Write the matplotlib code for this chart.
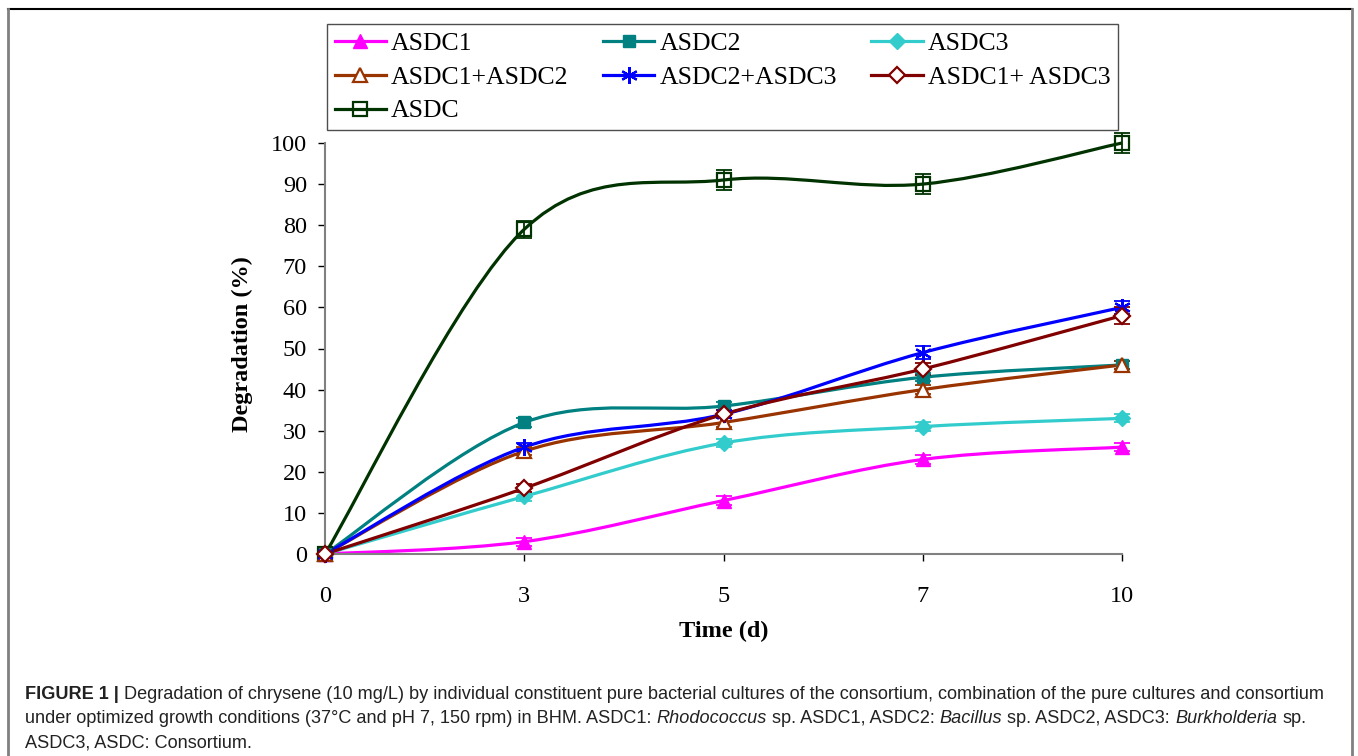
import numpy as np
import matplotlib
matplotlib.use("Agg")
import matplotlib.pyplot as plt
from matplotlib.path import Path
from matplotlib.patches import PathPatch
from matplotlib.lines import Line2D

# datos
dias = ["0", "3", "5", "7", "10"]

asdc1 = [0, 3, 13, 23, 26]
asdc2 = [0, 32, 36, 43, 46]
asdc3 = [0, 14, 27, 31, 33]
asdc1_2 = [0, 25, 32, 40, 46]
asdc2_3 = [0, 26, 34, 49, 60]
asdc1_3 = [0, 16, 34, 45, 58]
asdc = [0, 79, 91, 90, 100]

err_asdc1 = [0, 1, 1, 1, 1]
err_asdc2 = [0, 1, 1, 1, 1]
err_asdc3 = [0, 1, 1, 1, 1]
err_asdc1_2 = [0, 1, 1, 1, 1]
err_asdc2_3 = [0, 1, 1, 1.5, 1.5]
err_asdc1_3 = [0, 1, 1, 1.5, 2]
err_asdc = [0, 2, 2.5, 2.5, 2.5]

W, H = 1358, 756
SERIF = ["Liberation Serif", "DejaVu Serif"]
SANS = ["Liberation Sans", "DejaVu Sans"]


def curva_suave(xs, ys):
    """Curva tipo Catmull-Rom (como las lineas suavizadas de Excel)."""
    pts = np.column_stack([xs, ys]).astype(float)
    n = len(pts)
    verts = [pts[0]]
    codes = [Path.MOVETO]
    for i in range(n - 1):
        p0 = pts[i - 1] if i > 0 else pts[i]
        p1 = pts[i]
        p2 = pts[i + 1]
        p3 = pts[i + 2] if i + 2 < n else pts[i + 1]
        verts += [p1 + (p2 - p0) / 6, p2 - (p3 - p1) / 6, p2]
        codes += [Path.CURVE4] * 3
    return Path(verts, codes)


fig = plt.figure(figsize=(W / 100, H / 100), dpi=100)
fig.patch.set_facecolor("white")
ax = fig.add_axes([325 / W, 1 - 554 / H, (1122 - 325) / W, (554 - 143) / H])

x = np.arange(len(dias))

series = [
    ("ASDC", asdc, err_asdc, "#003300", "s", "none", 10),
    ("ASDC1", asdc1, err_asdc1, "#FF00FF", "^", "#FF00FF", 10),
    ("ASDC2", asdc2, err_asdc2, "#008080", "s", "#008080", 9),
    ("ASDC3", asdc3, err_asdc3, "#33CCCC", "D", "#33CCCC", 8),
    ("ASDC1+ASDC2", asdc1_2, err_asdc1_2, "#993300", "^", "white", 10),
    ("ASDC2+ASDC3", asdc2_3, err_asdc2_3, "#0000FF", (6, 2, 0), "#0000FF", 12),
    ("ASDC1+ ASDC3", asdc1_3, err_asdc1_3, "#800000", "D", "white", 8),
]

handles = {}
for nombre, vals, err, color, marker, fill, ms in series:
    ax.add_patch(PathPatch(curva_suave(x, vals), facecolor="none", edgecolor=color,
                           lw=2.3, transform=ax.transData, clip_on=False))
    ax.errorbar(x, vals, yerr=err, fmt="none", ecolor=color, elinewidth=1.3,
                capsize=5.5, capthick=1.3, clip_on=False)
    mew = 1.6 if fill in ("none", "white") or marker == (6, 2, 0) else 1
    ax.plot(x, vals, linestyle="none", marker=marker, markersize=ms,
            markerfacecolor=fill, markeredgecolor=color, markeredgewidth=mew,
            clip_on=False, zorder=3)
    handles[nombre] = Line2D([], [], color=color, lw=2.3, marker=marker, markersize=ms,
                             markerfacecolor=fill, markeredgecolor=color,
                             markeredgewidth=mew)

ax.set_xlim(0, 4)
ax.set_ylim(0, 100)
ax.set_xticks(x)
ax.set_xticklabels(dias)
ax.set_yticks(np.arange(0, 101, 10))

for lado in ["top", "right"]:
    ax.spines[lado].set_visible(False)
for lado in ["left", "bottom"]:
    ax.spines[lado].set_color("#808080")
    ax.spines[lado].set_linewidth(1.5)

ax.tick_params(axis="both", direction="out", length=5, width=1, color="black")
ax.tick_params(axis="x", pad=18)
ax.tick_params(axis="y", pad=8)
for lab in ax.get_xticklabels() + ax.get_yticklabels():
    lab.set_fontfamily(SERIF)
    lab.set_fontsize(17.5)

ax.set_xlabel("Time (d)", fontfamily=SERIF, fontsize=17.5, fontweight="bold")
ax.set_ylabel("Degradation (%)", fontfamily=SERIF, fontsize=17.5, fontweight="bold")
ax.xaxis.set_label_coords(0.5, -0.162)
ax.yaxis.set_label_coords(-0.09, 0.51)

orden = ["ASDC1", "ASDC1+ASDC2", "ASDC", "ASDC2", "ASDC2+ASDC3", "ASDC3", "ASDC1+ ASDC3"]
leg = fig.legend(
    [handles[n] for n in orden], orden,
    loc="upper left",
    bbox_to_anchor=(327 / W, 1 - 25 / H, (1118 - 327) / W, 0.001),
    mode="expand", ncol=3, frameon=True, fancybox=False,
    prop={"family": SERIF, "size": 18.5},
    handlelength=2.0, handletextpad=0.2, labelspacing=0.42,
    borderpad=0.3, borderaxespad=0,
)
leg.get_frame().set_edgecolor("#222222")
leg.get_frame().set_linewidth(1.0)

# marco exterior de la figura
fig.add_artist(Line2D([8 / W, 1352 / W], [1 - 9 / H, 1 - 9 / H], color="black",
                      lw=1.5, transform=fig.transFigure))
fig.add_artist(Line2D([8 / W, 8 / W], [1 - 9 / H, 0], color="#808080",
                      lw=2, transform=fig.transFigure))
fig.add_artist(Line2D([1352 / W, 1352 / W], [1 - 9 / H, 0], color="#808080",
                      lw=2, transform=fig.transFigure))

# pie de figura con partes en negrita e italica
lineas = [
    [("FIGURE 1 |", "bold", "normal"),
     ("Degradation of chrysene (10 mg/L) by individual constituent pure bacterial cultures "
      "of the consortium, combination of the pure cultures and consortium", "normal", "normal")],
    [("under optimized growth conditions (37°C and pH 7, 150 rpm) in BHM. ASDC1:", "normal", "normal"),
     ("Rhodococcus", "normal", "italic"),
     ("sp. ASDC1, ASDC2:", "normal", "normal"),
     ("Bacillus", "normal", "italic"),
     ("sp. ASDC2, ASDC3:", "normal", "normal"),
     ("Burkholderia", "normal", "italic"),
     ("sp.", "normal", "normal")],
    [("ASDC3, ASDC: Consortium.", "normal", "normal")],
]
bases = [699, 723, 747]
renderer = fig.canvas.get_renderer()


def ancho(texto, size, weight="normal", style="normal"):
    t = fig.text(0, 0, texto, fontfamily=SANS, fontsize=size, fontweight=weight,
                 fontstyle=style)
    w = t.get_window_extent(renderer).width
    t.remove()
    return w


def ancho_linea(segs, size):
    esp = ancho("a a", size) - ancho("aa", size)
    return sum(ancho(s, size, wt, st) for s, wt, st in segs) + esp * (len(segs) - 1)


size0 = 12
size = size0 * 1305 / ancho_linea(lineas[0], size0)
esp = ancho("a a", size) - ancho("aa", size)
for segs, base in zip(lineas, bases):
    xpix = 25
    for s, wt, st in segs:
        fig.text(xpix / W, 1 - base / H, s, fontfamily=SANS, fontsize=size,
                 fontweight=wt, fontstyle=st, color="#222222", va="baseline", ha="left")
        xpix += ancho(s, size, wt, st) + esp

fig.savefig("out.png", dpi=100)
